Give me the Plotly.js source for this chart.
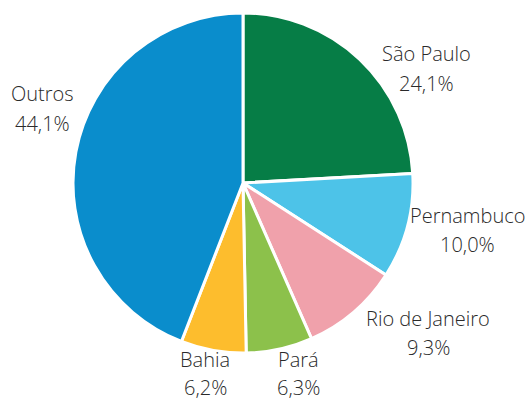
<!DOCTYPE html>
<html>
<head>
<meta charset="utf-8">
<script src="https://cdn.plot.ly/plotly-3.0.1.min.js"></script>
<style>html,body{margin:0;padding:0;background:#fff;}#chart{width:529px;height:403px;}</style>
</head>
<body>
<div id="chart"></div>
<script>
const categories = ["São Paulo", "Pernambuco", "Rio de Janeiro", "Pará", "Bahia", "Outros"];
const values = [24.1, 10.0, 9.3, 6.3, 6.2, 44.1];
const colors = ["#067d46", "#4dc3e8", "#f0a1ab", "#8cc14b", "#fdbd2d", "#0a8dcc"];
// label anchor positions in pixels (center x, center y of first line)
const labelPos = [[426, 54], [467, 216], [428, 318], [298, 359], [205, 359], [42, 94]];
const lineGap = 29;

const W = 529, H = 403;
const fmt = v => v.toFixed(1).replace('.', ',') + '%';
const annotations = [];
categories.forEach((c, i) => {
  const [px, py] = labelPos[i];
  [c, fmt(values[i])].forEach((t, k) => {
    annotations.push({
      text: t, showarrow: false, xref: 'paper', yref: 'paper',
      x: px / W, y: 1 - (py + k * (i >= 3 && i <= 4 ? 28 : lineGap)) / H,
      xanchor: 'center', yanchor: 'middle',
      font: {family: '"Open Sans", "Liberation Sans", sans-serif', size: 20, weight: 300, color: '#2a2a2a'}
    });
  });
});

const cx = 243, cy = 183, r = 170;
Plotly.newPlot('chart', [{
  type: 'pie',
  labels: categories,
  values: values,
  sort: false,
  direction: 'clockwise',
  rotation: 0,
  textinfo: 'none',
  hoverinfo: 'label+percent',
  marker: {colors: colors, line: {color: '#ffffff', width: 3}},
  domain: {x: [(cx - r) / W, (cx + r) / W], y: [1 - (cy + r) / H, 1 - (cy - r) / H]}
}], {
  width: W, height: H,
  margin: {l: 0, r: 0, t: 0, b: 0},
  showlegend: false,
  paper_bgcolor: '#ffffff',
  annotations: annotations
}, {staticPlot: true});
</script>
</body>
</html>
